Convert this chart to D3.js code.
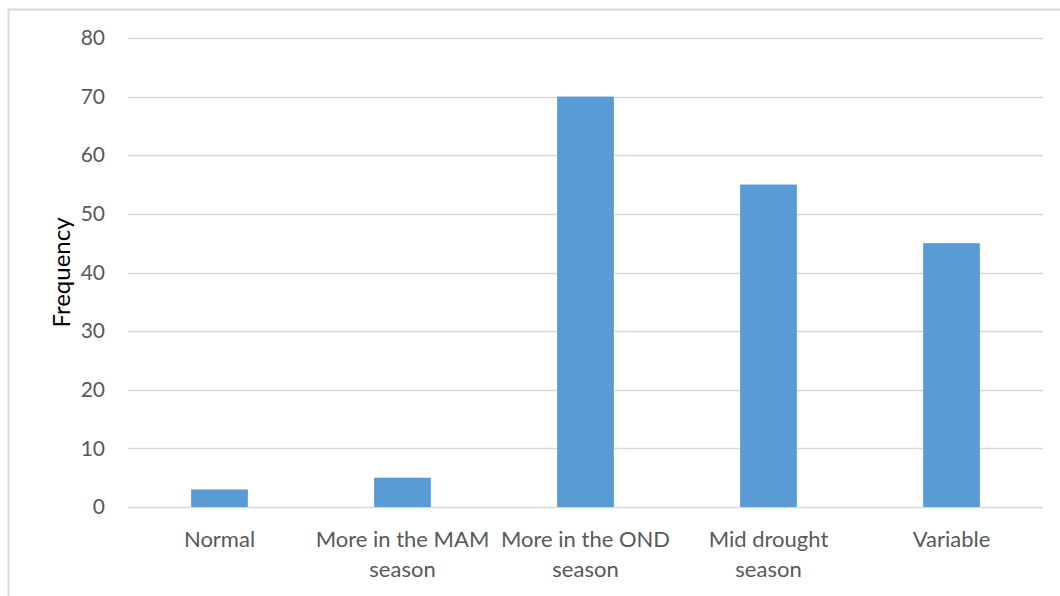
<!DOCTYPE html>
<html>
<head>
<meta charset="utf-8">
<script src="https://cdn.jsdelivr.net/npm/d3@7"></script>
<style>
  html, body { margin: 0; padding: 0; background: #fff; }
  svg { display: block; }
  text { font-family: "Lato", "Open Sans", sans-serif; }
</style>
</head>
<body>
<svg id="chart" width="1060" height="596"></svg>
<script>
// Reported timing of drought occurrence
const categories = ["Normal", "More in the MAM season", "More in the OND season", "Mid drought season", "Variable"];
const frequency = [3, 5, 70, 55, 45];
const yTicks = [0, 10, 20, 30, 40, 50, 60, 70, 80];
const yTitle = "Frequency";

const svg = d3.select("#chart");
const W = 1060, H = 596;
const margin = { left: 128, right: 17, top: 38, bottom: 89 };

// chart area frame
svg.append("rect")
  .attr("x", 8.5).attr("y", 9.5)
  .attr("width", 1100).attr("height", 700)
  .attr("fill", "#fff")
  .attr("stroke", "#d9d9d9").attr("stroke-width", 2);

const x = d3.scaleBand()
  .domain(categories)
  .range([margin.left, W - margin.right])
  .paddingInner(0.69)
  .paddingOuter(0.345);

const y = d3.scaleLinear()
  .domain([0, 80])
  .range([H - margin.bottom, margin.top]);

// gridlines
svg.append("g")
  .selectAll("line")
  .data(yTicks)
  .join("line")
  .attr("x1", margin.left).attr("x2", W - margin.right)
  .attr("y1", d => Math.round(y(d)) + 0.5).attr("y2", d => Math.round(y(d)) + 0.5)
  .attr("stroke", "#d9d9d9").attr("stroke-width", 1.3);

// y axis labels
const yAxis = d3.axisLeft(y).tickValues(yTicks).tickSize(0).tickPadding(0);
const yg = svg.append("g")
  .attr("transform", `translate(${margin.left - 23},0)`)
  .call(yAxis);
yg.select(".domain").remove();
yg.selectAll("text")
  .attr("font-size", 21)
  .attr("fill", "#595959")
  .attr("font-family", "Lato, sans-serif");

// bars
svg.append("g")
  .selectAll("rect")
  .data(frequency)
  .join("rect")
  .attr("x", (d, i) => x(categories[i]))
  .attr("width", x.bandwidth())
  .attr("y", d => y(d))
  .attr("height", d => y(0) - y(d))
  .attr("fill", "#5b9bd5");

// x axis labels, wrapped to the category width
const xAxis = d3.axisBottom(x).tickSize(0).tickPadding(0);
const xg = svg.append("g")
  .attr("transform", `translate(0,${y(0)})`)
  .call(xAxis);
xg.select(".domain").remove();
xg.selectAll("text")
  .attr("font-size", 22)
  .attr("fill", "#595959")
  .attr("font-family", "Lato, sans-serif")
  .attr("y", 0)
  .attr("dy", null)
  .each(function (d) {
    const t = d3.select(this);
    const words = d.split(" ");
    t.text(null);
    const maxW = x.step() - 4;
    let lines = [], cur = [];
    const probe = t.append("tspan");
    words.forEach(w => {
      const test = cur.concat(w).join(" ");
      probe.text(test);
      if (probe.node().getComputedTextLength() > maxW && cur.length) {
        lines.push(cur.join(" "));
        cur = [w];
      } else {
        cur.push(w);
      }
    });
    lines.push(cur.join(" "));
    probe.remove();
    lines.forEach((ln, k) => {
      t.append("tspan").attr("x", 0).attr("y", 40 + k * 30).text(ln);
    });
  });

// y axis title
svg.append("text")
  .attr("transform", `translate(70,${(y(0) + y(80)) / 2}) rotate(-90)`)
  .attr("text-anchor", "middle")
  .attr("font-size", 24)
  .attr("fill", "#000")
  .text(yTitle);
</script>
</body>
</html>
